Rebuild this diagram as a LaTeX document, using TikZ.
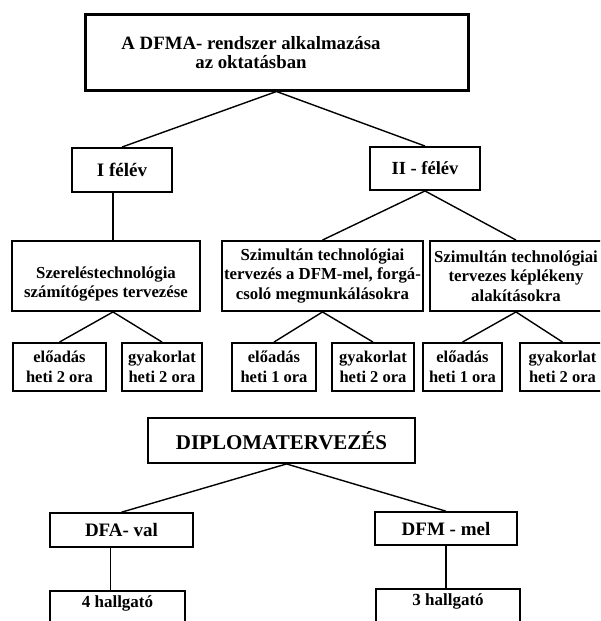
\documentclass[tikz,border=0pt]{standalone}
\usepackage{fontspec}
\setmainfont{Liberation Serif}
\begin{document}
\begin{tikzpicture}[x=1pt,y=-1pt,every node/.style={black},
	box/.style={draw,line width=1.9pt,inner sep=0pt,align=center},
	leaf/.style={box,minimum height=48pt,font=\bfseries\fontsize{16.5}{20}\selectfont},
	course/.style={box,minimum height=70pt,font=\bfseries\fontsize{16.8}{19.5}\selectfont},
	link/.style={line width=1.4pt}]
	\useasboundingbox (0,0) rectangle (600,621);
	\clip (0,0) rectangle (600,621);

	\node[box,line width=3pt,minimum width=383pt,minimum height=76pt] (top) at (276.5,52) {};
	\node[align=center,font=\bfseries\fontsize{18.8}{19}\selectfont] (toptext) at (251,52.5) {A DFMA- rendszer alkalmazása\\az oktatásban};

	\node[box,minimum width=100pt,minimum height=44pt,font=\bfseries\fontsize{19}{20}\selectfont] (sem1) at (122,170) {I félév};
	\node[box,minimum width=110pt,minimum height=43pt,font=\bfseries\fontsize{18.5}{20}\selectfont] (sem2) at (425,168.5) {II - félév};

	\node[course,minimum width=188pt] (c1) at (106,276) {\mbox{}\\[8pt]Szereléstechnológia\\számítógépes tervezése};
	\node[course,minimum width=201pt] (c2) at (322.5,276) {Szimultán technológiai\\tervezés a DFM-mel, forgá-\\csoló megmunkálásokra};
	\node[course,minimum width=172pt] (c3) at (516,276) {Szimultán technológiai\\tervezes képlékeny\\alakításokra};

	\node[leaf,minimum width=93pt] (l1) at (59.5,367) {előadás\\heti 2 ora};
	\node[leaf,minimum width=80pt] (l2) at (162,367) {gyakorlat\\heti 2 ora};
	\node[leaf,minimum width=84pt] (l3) at (274,367) {előadás\\heti 1 ora};
	\node[leaf,minimum width=82pt] (l4) at (373,367) {gyakorlat\\heti 2 ora};
	\node[leaf,minimum width=79pt] (l5) at (462.5,367) {előadás\\heti 1 ora};
	\node[leaf,minimum width=85pt] (l6) at (562.5,367) {gyakorlat\\heti 2 ora};

	\draw[link] (top.south) -- (sem1.north);
	\draw[link] (top.south) -- (sem2.north);
	\draw[link] ([xshift=-9pt]sem1.south) -- ([xshift=-9pt]sem1.south |- c1.north);
	\draw[link] (sem2.south) -- (c2.north);
	\draw[link] (sem2.south) -- (c3.north);
	\draw[link] ([xshift=7pt]c1.south) -- (l1.north);
	\draw[link] ([xshift=7pt]c1.south) -- (l2.north);
	\draw[link] (c2.south) -- (l3.north);
	\draw[link] (c2.south) -- (l4.north);
	\draw[link] (c3.south) -- (l5.north);
	\draw[link] (c3.south) -- (l6.north);

	\node[box,minimum width=267pt,minimum height=45pt,font=\bfseries\fontsize{21}{22}\selectfont] (dipl) at (281.5,440.5) {DIPLOMATERVEZÉS};
	\node[box,line width=1.6pt,minimum width=143pt,minimum height=34pt,font=\bfseries\fontsize{19}{20}\selectfont] (dfa) at (121.5,530) {DFA- val};
	\node[box,line width=1.6pt,minimum width=142pt,minimum height=33pt,font=\bfseries\fontsize{19}{20}\selectfont] (dfm) at (446,528.5) {DFM - mel};
	\node[box,line width=1.6pt,anchor=north,minimum width=135pt,inner ysep=3pt,text height=14pt,text depth=40pt,font=\bfseries\fontsize{17}{18}\selectfont] (h4) at (117.5,590) {4 hallgató};
	\node[box,line width=1.6pt,anchor=north,minimum width=144pt,inner ysep=3pt,text height=14pt,text depth=40pt,font=\bfseries\fontsize{17}{18}\selectfont] (h3) at (448,588) {3 hallgató};

	\draw[link] ([xshift=5pt]dipl.south) -- (dfa.north);
	\draw[link] ([xshift=5pt]dipl.south) -- (dfm.north);
	\draw[link] ([xshift=-11pt]dfa.south) -- ([xshift=-11pt]dfa.south |- h4.north);
	\draw[link] (dfm.south) -- (dfm.south |- h3.north);
\end{tikzpicture}
\end{document}
